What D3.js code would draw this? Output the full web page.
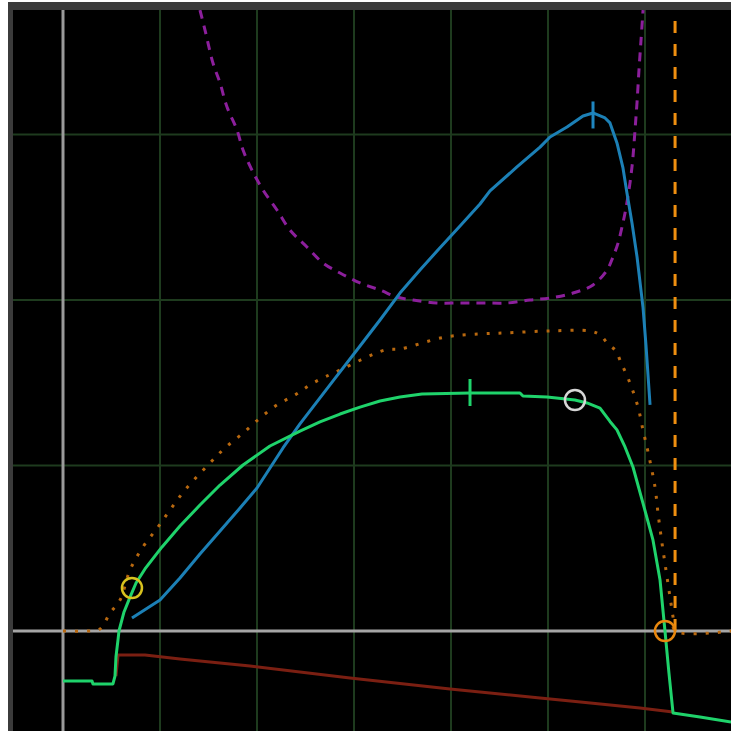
<!DOCTYPE html>
<meta charset="utf-8">
<style>
body { margin: 0; background: #fff; }
svg { display: block; }
</style>
<svg width="731" height="731"></svg>
<script src="https://d3js.org/d3.v7.min.js"></script>
<script>

// grid positions (chart units)
var gridX = [100, 200, 300, 400, 500, 600];
var gridY = [100, 200, 300];

// green curve
var greenX = [0, 29.9, 30.9, 51.5, 53.6, 54.6, 56.7, 57.7, 62.9, 69.1, 75.3, 84.5, 102.1, 120.6, 141.2, 161.9, 185.6, 213.4, 244.3, 264.9, 285.6, 306.2, 326.8, 347.4, 370.1, 419.6, 471.1, 474.2, 499, 527.8, 540.2, 553.6, 563.9, 571.1, 579.4, 587.6, 597.9, 608.2, 615.5, 620.6, 624.7, 628.9, 656.7, 688.7];
var greenY = [-30.2, -30.2, -32, -32, -27.2, -15.7, -5.4, 0, 11.5, 20.5, 29, 37.5, 50.8, 63.4, 76.1, 88.2, 100.3, 111.8, 120.8, 126.3, 131.1, 135.3, 139, 141.4, 143.2, 143.8, 143.8, 142, 141.4, 139.6, 137.8, 134.7, 126.6, 121.5, 111.2, 99.1, 77.3, 55, 30.8, 0, -25.4, -49.5, -52, -55];

// blue curve
var blueX = [71.1, 100, 120.6, 141.2, 161.9, 182.5, 200, 213.4, 226.8, 244.3, 278.4, 306.2, 326.8, 347.4, 368, 385.6, 409.3, 429.9, 440.2, 468, 491.8, 502.1, 519.6, 536.1, 546.4, 558.8, 563.9, 571.1, 577.3, 581.4, 586.6, 591.8, 598, 601, 603.1, 605.2];
var blueY = [7.9, 18.7, 32, 46.5, 60.4, 74.3, 86.4, 98.5, 110.6, 125.1, 151.1, 172.2, 187.9, 204.2, 218.1, 229.6, 244.7, 258, 265.9, 280.4, 292.4, 298.5, 304.5, 311.2, 313, 310, 307, 294.9, 279.8, 264.7, 246.5, 226, 195.2, 172.8, 154.7, 136.6];

// purple dashed curve
var purpleX = [141.2, 146.4, 154.6, 161.9, 169.1, 179.4, 185.6, 194.8, 206.2, 220.6, 234, 251.5, 268, 285.6, 306.2, 326.8, 344.3, 360.8, 385.6, 409.3, 433, 457.7, 481.4, 502.1, 525.8, 546.4, 560.8, 567, 572.2, 576.3, 579.4, 582.5, 585.6, 587.6, 589.7, 591.8, 593.8, 595.9, 598];
var purpleY = [375.2, 363.1, 343.2, 331.1, 316.6, 302.7, 290.6, 278.5, 266.5, 254.4, 242.3, 232, 222.4, 216.3, 210.3, 206, 201.8, 200, 198.2, 198.2, 198.2, 198.2, 200, 201.2, 204.2, 209.1, 218.1, 226, 234.4, 244.1, 252.6, 262.8, 275.5, 286.4, 302.7, 319.6, 339, 357.1, 375.2];

// orange dotted curve
var dotX = [0, 25.8, 38.1, 48.5, 58.8, 69.1, 82.5, 97.9, 110.3, 125.8, 151.5, 167, 185.6, 203.1, 220.6, 239.2, 257.7, 285.6, 332, 347.4, 393.8, 429.9, 455.7, 502.1, 543.3, 553.6, 561.9, 570.1, 574.2, 584.5, 592.8, 597.9, 603.1, 610.3, 613.4, 617.5, 621.6, 625.8, 628.9, 631, 688.7];
var dotY = [0, 0, 1.2, 10.9, 18.7, 36.9, 50.8, 62.8, 73.1, 85.2, 101.5, 110.6, 119.6, 128.7, 136.6, 142.6, 149.8, 157.7, 169.8, 170.4, 177.6, 179.5, 180.1, 181.3, 181.3, 178.9, 173.4, 169.2, 163.7, 149.8, 135.3, 121.5, 108.2, 87, 71.3, 53.2, 36.9, 20.5, 8.5, 0, 0];

// dark red line
var redX = [54.6, 56.7, 84.5, 120.6, 192.8, 295.9, 399, 491.8, 525.8, 594.8, 628.9];
var redY = [-27.2, -14.5, -14.5, -16.9, -21.1, -28.4, -35, -40.5, -42.5, -46.5, -48.9];

// vertical orange dashed limit
var limitX = 631;
var limitY = [0, 370];

// circle markers
var markX = [71.1, 527.8, 620.6];
var markY = [26, 139.6, 0];
var markColor = ["#d8c21e", "#d6d6d6", "#e8870e"];

// tick markers
var tickX = [419.6, 546.4];
var tickY = [143.8, 311.5];
var tickColor = ["#1fd36b", "#1f86c0"];

var svg = d3.select("svg");

var x = d3.scaleLinear().domain([0, 600]).range([63, 645]);
var y = d3.scaleLinear().domain([0, 300]).range([631, 134.5]);

svg.append("rect").attr("x", 8).attr("y", 2).attr("width", 723).attr("height", 729).attr("fill", "#3b3b3b");
svg.append("rect").attr("x", 13).attr("y", 10).attr("width", 718).attr("height", 721).attr("fill", "#000");

svg.append("clipPath").attr("id", "plot")
  .append("rect").attr("x", 13).attr("y", 10).attr("width", 718).attr("height", 721);

var g = svg.append("g").attr("clip-path", "url(#plot)");

// grid
g.selectAll(".gx").data(gridX).enter().append("line")
    .attr("x1", function(d) { return x(d); }).attr("x2", function(d) { return x(d); })
    .attr("y1", 10).attr("y2", 731)
    .attr("stroke", "#1e3b1e").attr("stroke-width", 2);
g.selectAll(".gy").data(gridY).enter().append("line")
    .attr("y1", function(d) { return y(d); }).attr("y2", function(d) { return y(d); })
    .attr("x1", 13).attr("x2", 731)
    .attr("stroke", "#1e3b1e").attr("stroke-width", 2);

// zero axes
g.append("line").attr("x1", x(0)).attr("x2", x(0)).attr("y1", 10).attr("y2", 731)
    .attr("stroke", "#9a9a9a").attr("stroke-width", 3);
g.append("line").attr("y1", y(0)).attr("y2", y(0)).attr("x1", 13).attr("x2", 731)
    .attr("stroke", "#a5a5a5").attr("stroke-width", 3);

function pts(xs, ys) { return xs.map(function(d, i) { return [d, ys[i]]; }); }

var smooth = d3.line()
    .curve(d3.curveCatmullRom.alpha(0.5))
    .x(function(d) { return x(d[0]); })
    .y(function(d) { return y(d[1]); });

var straight = d3.line()
    .x(function(d) { return x(d[0]); })
    .y(function(d) { return y(d[1]); });

function draw(data, color, width, dash, gen) {
  var p = g.append("path")
    .attr("d", (gen || smooth)(data))
    .attr("fill", "none")
    .attr("stroke", color)
    .attr("stroke-width", width)
    .attr("stroke-linejoin", "round");
  if (dash) p.attr("stroke-dasharray", dash);
}

draw(pts(purpleX, purpleY), "#8c1f9c", 3, "9,7");
draw(pts(dotX, dotY), "#b8680f", 3, "3,9");
draw([[limitX, limitY[0]], [limitX, limitY[1]]], "#ef8f10", 3, "12,11", straight);
draw(pts(redX, redY), "#7b1f12", 3, null, straight);
draw(pts(blueX, blueY), "#1c80b6", 3, null, straight);
draw(pts(greenX, greenY), "#1fd36b", 3, null, straight);

// ticks on curves
g.selectAll(".tk").data(tickX).enter().append("line")
    .attr("x1", function(d) { return x(d); }).attr("x2", function(d) { return x(d); })
    .attr("y1", function(d, i) { return y(tickY[i]) - 14; })
    .attr("y2", function(d, i) { return y(tickY[i]) + 13; })
    .attr("stroke", function(d, i) { return tickColor[i]; })
    .attr("stroke-width", 3);

// circle markers
g.selectAll(".mk").data(markX).enter().append("circle")
    .attr("cx", function(d) { return x(d); })
    .attr("cy", function(d, i) { return y(markY[i]); })
    .attr("r", 10)
    .attr("fill", "none")
    .attr("stroke", function(d, i) { return markColor[i]; })
    .attr("stroke-width", 2.5);

</script>
